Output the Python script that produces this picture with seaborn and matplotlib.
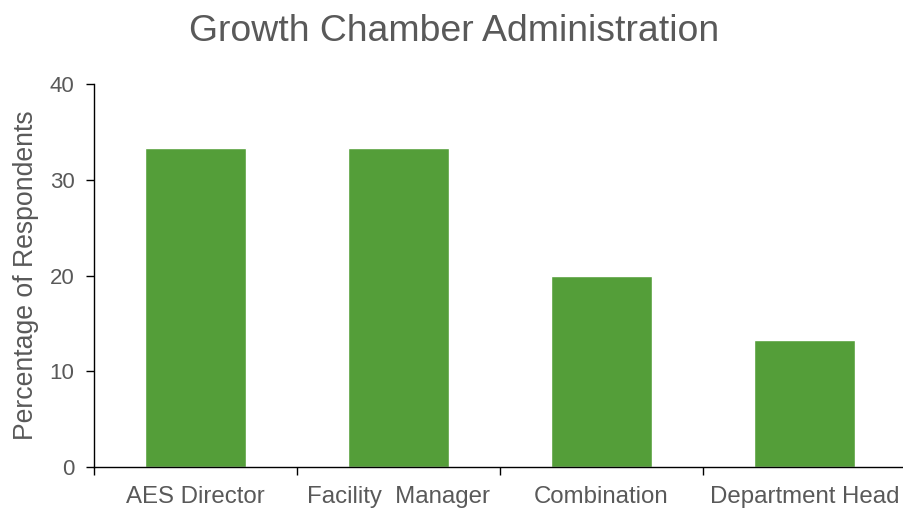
import matplotlib
matplotlib.use("Agg")
import matplotlib.pyplot as plt
from matplotlib.ticker import FixedLocator
import seaborn as sns
import pandas as pd

categories = ["AES Director", "Facility  Manager", "Combination", "Department Head"]
percentages = [33.3, 33.3, 20.0, 13.3]
y_ticks = [0, 10, 20, 30, 40]

sns.set_theme(style="white")
plt.rcParams["font.family"] = ["Liberation Sans", "DejaVu Sans"]

text_gray = "#595959"
bar_green = "#549E39"

df = pd.DataFrame({"category": categories, "pct": percentages})

fig = plt.figure(figsize=(9.04, 5.08), dpi=100)
ax = fig.add_axes([94 / 904, 41 / 508, 812 / 904, 383 / 508])

sns.barplot(data=df, x="category", y="pct", color=bar_green, width=0.5,
            saturation=1, ax=ax)

ax.set_xlim(-0.5, len(categories) - 0.5)
ax.set_ylim(0, 40)
ax.set_yticks(y_ticks)
ax.set_xlabel("")
ax.set_ylabel("Percentage of Respondents", fontsize=19.2, color=text_gray)
ax.yaxis.set_label_coords(-0.068, 0.5)

fig.text(0.502, 1 - 41 / 508, "Growth Chamber Administration", fontsize=26.9,
         color=text_gray, ha="center", va="baseline")

for side in ["top", "right"]:
    ax.spines[side].set_visible(False)
for side in ["left", "bottom"]:
    ax.spines[side].set_color("black")
    ax.spines[side].set_linewidth(1.0)

# category boundary ticks on the x axis, labels centred under the bars
ax.xaxis.set_minor_locator(FixedLocator([i - 0.5 for i in range(len(categories) + 1)]))
ax.tick_params(axis="x", which="major", length=0, pad=13.5, labelsize=17.3, labelcolor=text_gray)
ax.tick_params(axis="x", which="minor", length=6, width=1, color="black", bottom=True)
ax.tick_params(axis="y", which="major", length=6, width=1, color="black", left=True,
               pad=8, labelsize=16, labelcolor=text_gray)

fig.savefig("out.png", dpi=100)
